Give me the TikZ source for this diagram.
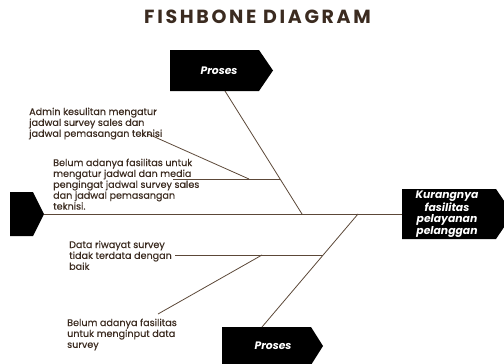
\documentclass[tikz,border=0pt]{standalone}
\usepackage{fontspec}
\setmainfont{Poppins}
\newfontfamily\titlefont[LetterSpace=14]{Poppins}
\newfontfamily\causefont[FakeBold=0.35]{Poppins}
\definecolor{inkbrown}{HTML}{3B2B20}
\definecolor{bonebrown}{HTML}{5C4838}

\begin{document}
\begin{tikzpicture}[x=1pt, y=-1pt,
  bone/.style={draw=bonebrown, line width=0.8pt},
  cause/.style={anchor=north west, inner sep=0pt, align=left, text=inkbrown,
    font=\causefont\fontsize{9.6}{10.9}\selectfont},
  boxtext/.style={text=white, inner sep=0pt, align=center,
    font=\fontsize{10.8}{11.6}\selectfont\bfseries\itshape}]
  % Canvas
  \useasboundingbox (0,0) rectangle (504,364);
  \clip (0,0) rectangle (504,364);

  % Title
  \node[text=inkbrown, font=\titlefont\fontsize{19}{21}\selectfont\bfseries] (title) at (257.5,17) {FISHBONE DIAGRAM};

  % Black heads and tail
  \fill (10,192) -- (33,192) -- (44,214) -- (33,236) -- (10,236) -- cycle;
  \fill (402,189) -- (496,189) -- (513,214) -- (496,239) -- (402,239) -- cycle;
  \fill (170,50) -- (259,50) -- (273,70.5) -- (259,91) -- (170,91) -- cycle;
  \fill (222,327) -- (311,327) -- (323,346) -- (311,365) -- (222,365) -- cycle;

  \node[boxtext] (procTop) at (219,70.5) {Proses};
  \node[boxtext] (procBot) at (273,346) {Proses};
  \node[boxtext] (effect) at (447,214) {Kurangnya\\fasilitas\\pelayanan\\pelanggan};

  % Bone points
  \coordinate (tail) at (44,214);
  \coordinate (head) at (402,214);
  \coordinate (topFoot) at (225,91);
  \coordinate (topJoint) at (302,214);
  \coordinate (topMid) at (280,179);
  \coordinate (topBranch) at (249,179);
  \coordinate (mediaEnd) at (173,179);
  \coordinate (teknisiEnd) at (148,134);
  \coordinate (botFoot) at (262,327);
  \coordinate (botJoint) at (358,214);
  \coordinate (botMid) at (323,255);
  \coordinate (botBranch) at (262,255);
  \coordinate (denganEnd) at (175,255);
  \coordinate (inputEnd) at (158,314);

  % Spine and bones
  \draw[bone] (tail) -- (head);
  \draw[bone] (topFoot) -- (topJoint);
  \draw[bone] (botFoot) -- (botJoint);
  \draw[bone] (mediaEnd) -- (topMid);
  \draw[bone] (teknisiEnd) -- (topBranch);
  \draw[bone] (denganEnd) -- (botMid);
  \draw[bone] (inputEnd) -- (botBranch);

  % Causes
  \node[cause] (causeAdmin) at (29,107.5) {Admin kesulitan mengatur\\jadwal survey sales dan\\jadwal pemasangan teknisi};
  \node[cause] (causeMedia) at (53,158.5) {Belum adanya fasilitas untuk\\mengatur jadwal dan media\\pengingat jadwal survey sales\\dan jadwal pemasangan\\teknisi.};
  \node[cause] (causeData) at (69,240.5) {Data riwayat survey\\tidak terdata dengan\\baik};
  \node[cause] (causeInput) at (67,318.5) {Belum adanya fasilitas\\untuk menginput data\\survey};
\end{tikzpicture}
\end{document}
